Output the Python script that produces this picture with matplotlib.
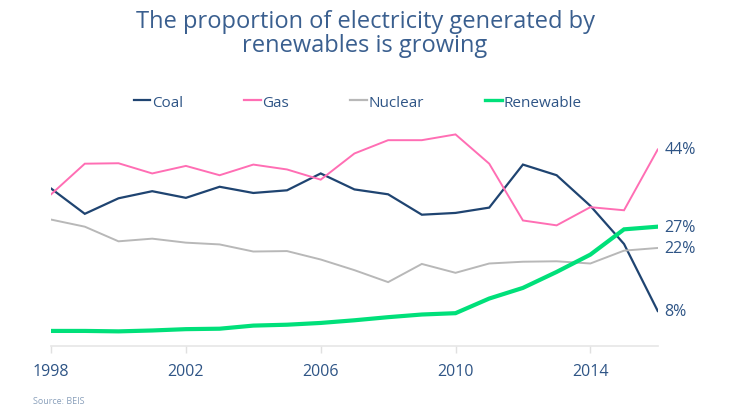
import matplotlib
matplotlib.use("Agg")
import matplotlib.pyplot as plt
from matplotlib.lines import Line2D

years = list(range(1998, 2017))
coal = [35.5, 29.8, 33.3, 34.9, 33.4, 35.9, 34.5, 35.1, 38.9, 35.3,
        34.2, 29.6, 30.0, 31.2, 40.9, 38.5, 31.6, 23.0, 7.9]
gas = [34.2, 41.1, 41.2, 38.9, 40.6, 38.5, 40.9, 39.8, 37.5, 43.4,
       46.4, 46.4, 47.7, 41.1, 28.3, 27.2, 31.3, 30.6, 44.3]
nuclear = [28.5, 26.9, 23.6, 24.2, 23.3, 22.9, 21.3, 21.4, 19.5, 17.1,
           14.4, 18.5, 16.5, 18.6, 19.0, 19.1, 18.6, 21.5, 22.1]
renewable = [3.4, 3.4, 3.3, 3.5, 3.8, 3.9, 4.6, 4.8, 5.2, 5.8,
             6.5, 7.1, 7.4, 10.7, 13.1, 16.7, 20.6, 26.3, 26.9]
names = ["Coal", "Gas", "Nuclear", "Renewable"]
end_labels = ["8%", "44%", "22%", "27%"]
tick_years = [1998, 2002, 2006, 2010, 2014]

colors = ["#1f4471", "#ff6eb4", "#b8b8b8", "#00e07a"]
widths = [1.6, 1.4, 1.4, 3.0]
text_col = "#2f5586"
plt.rcParams["font.family"] = ["Open Sans", "DejaVu Sans"]

fig = plt.figure(figsize=(7.3, 4.06), dpi=100)
ax = fig.add_axes([0.07, 0.1453, 0.831, 0.5463])

series = [coal, gas, nuclear, renewable]
for vals, c, w in zip(series, colors, widths):
    ax.plot(years, vals, color=c, lw=w, solid_joinstyle="miter")

# value at the end of each line
for vals, lab in zip(series, end_labels):
    ax.text(years[-1] + 0.2, vals[-1], lab, color=text_col, fontsize=11.5,
            va="center", ha="left")

ax.set_xlim(1998, 2016)
ax.set_ylim(0, 50)
for s in ["top", "right", "left"]:
    ax.spines[s].set_visible(False)
ax.spines["bottom"].set_color("#e6e6e6")
ax.spines["bottom"].set_linewidth(1.2)
ax.set_yticks([])
ax.set_xticks(tick_years)
ax.set_xticklabels([str(y) for y in tick_years])
ax.tick_params(axis="x", colors="#e0e0e0", length=5, width=1, pad=7,
               labelsize=11.5, labelcolor=text_col)

fig.text(0.5, 0.975, "The proportion of electricity generated by\nrenewables is growing",
         ha="center", va="top", fontsize=17, color="#3a5f8f", linespacing=1.0)

handles = [Line2D([0], [0], color=c, lw=w) for c, w in zip(colors, [1.6, 1.6, 1.6, 2.4])]
leg = fig.legend(handles, names, loc="center", bbox_to_anchor=(0.49, 0.746),
                 ncol=4, frameon=False, handlelength=1.1, handletextpad=0.1,
                 columnspacing=4.0, prop={"size": 11})
for t in leg.get_texts():
    t.set_color(text_col)

fig.text(0.045, 0.0, "Source: BEIS", fontsize=6.5, color="#8aa0bb",
         ha="left", va="bottom")

fig.savefig("out.png", dpi=100)
